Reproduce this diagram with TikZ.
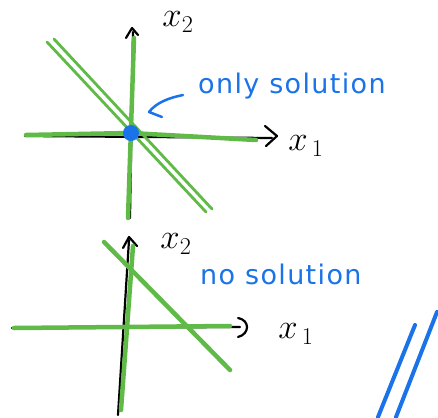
\documentclass[tikz,border=0pt]{standalone}
\usepackage{fontspec}
\setmainfont{DejaVu Sans}
\usetikzlibrary{arrows.meta}
\definecolor{pgreen}{RGB}{96,186,72}
\definecolor{pblue}{RGB}{26,115,232}
\tikzset{
  axis/.style={black,line width=2.2pt,line cap=round},
  gline/.style={pgreen,line width=4.5pt,line cap=round},
  tip/.style={black,line width=2.2pt,line cap=round,line join=round},
  btext/.style={pblue,font=\fontsize{27}{28}\selectfont\addfontfeature{LetterSpace=5},inner sep=0pt},
  ktext/.style={black,font=\fontsize{24}{24}\selectfont,inner sep=0pt,scale=1.4}
}
\begin{document}
\begin{tikzpicture}[x=1pt,y=-1pt]
\useasboundingbox (0,0) rectangle (438,417);
\fill[white] (0,0) rectangle (438,417);
% ---------- top diagram ----------
\draw[axis] (130,218) -- (133,32);
\draw[tip] (126,38) -- (132,28) -- (138,35);
\draw[axis] (25,136) -- (272,138);
\draw[tip] (265,126) -- (277,136) -- (266,146);
\draw[gline] (128,218) -- (134,38);
\draw[gline] (26,135) -- (130,133) -- (256,140);
\draw[pgreen,line width=2.8pt,line cap=round] (47,42) -- (206,212);
\draw[pgreen,line width=2.8pt,line cap=round] (54,39) -- (212,209);
\fill[pblue] (131,133) circle (8);
\node[ktext] (x2a) at (178,22) {$x_2$};
\node[ktext] (x1a) at (306,146) {$x_{\,1}$};
\draw[pblue,line width=2.5pt,line cap=round,line join=round]
  (183,95) .. controls (168,98) and (156,103) .. (149,112) -- (162,117);
\node[btext,anchor=west] (only) at (198,86) {only solution};
% ---------- bottom diagram ----------
\draw[axis] (118,415) -- (129,240);
\draw[tip] (123,248) -- (129,237) -- (137,246);
\draw[axis] (12,328) -- (240,327);
\draw[tip] (238,318) .. controls (250,320) and (250,334) .. (238,337);
\draw[gline] (121,410) -- (133,246);
\draw[gline] (14,328) -- (230,326);
\draw[gline] (104,242) -- (230,370);
\node[ktext] (x2b) at (176,244) {$x_2$};
\node[ktext] (x1b) at (296,334) {$x_{\,1}$};
\node[btext,anchor=west] (nosol) at (200,274) {no solution};
% ---------- blue double strokes ----------
\draw[pblue,line width=4pt,line cap=round] (378,417) -- (415,325);
\draw[pblue,line width=4pt,line cap=round] (396,417) -- (437,312);
\end{tikzpicture}
\end{document}
